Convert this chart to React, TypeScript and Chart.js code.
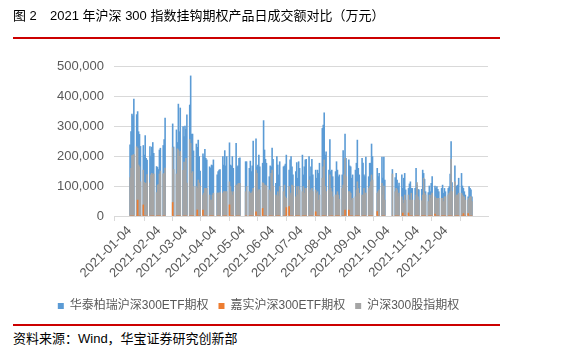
import React, { useEffect, useRef } from "react";
import { Chart, registerables } from "chart.js";

Chart.register(...registerables);

const tradingDates = [
  "2021-01-04","2021-01-05","2021-01-06","2021-01-07","2021-01-08","2021-01-11","2021-01-12","2021-01-13","2021-01-14","2021-01-15","2021-01-18","2021-01-19","2021-01-20","2021-01-21","2021-01-22","2021-01-25","2021-01-26","2021-01-27","2021-01-28","2021-01-29",
  "2021-02-01","2021-02-02","2021-02-03","2021-02-04","2021-02-05","2021-02-08","2021-02-09","2021-02-10","2021-02-18","2021-02-19","2021-02-22","2021-02-23","2021-02-24","2021-02-25","2021-02-26",
  "2021-03-01","2021-03-02","2021-03-03","2021-03-04","2021-03-05","2021-03-08","2021-03-09","2021-03-10","2021-03-11","2021-03-12","2021-03-15","2021-03-16","2021-03-17","2021-03-18","2021-03-19","2021-03-22","2021-03-23","2021-03-24","2021-03-25","2021-03-26","2021-03-29","2021-03-30","2021-03-31",
  "2021-04-01","2021-04-02","2021-04-06","2021-04-07","2021-04-08","2021-04-09","2021-04-12","2021-04-13","2021-04-14","2021-04-15","2021-04-16","2021-04-19","2021-04-20","2021-04-21","2021-04-22","2021-04-23","2021-04-26","2021-04-27","2021-04-28","2021-04-29","2021-04-30",
  "2021-05-06","2021-05-07","2021-05-10","2021-05-11","2021-05-12","2021-05-13","2021-05-14","2021-05-17","2021-05-18","2021-05-19","2021-05-20","2021-05-21","2021-05-24","2021-05-25","2021-05-26","2021-05-27","2021-05-28","2021-05-31",
  "2021-06-01","2021-06-02","2021-06-03","2021-06-04","2021-06-07","2021-06-08","2021-06-09","2021-06-10","2021-06-11","2021-06-15","2021-06-16","2021-06-17","2021-06-18","2021-06-21","2021-06-22","2021-06-23","2021-06-24","2021-06-25","2021-06-28","2021-06-29","2021-06-30",
  "2021-07-01","2021-07-02","2021-07-05","2021-07-06","2021-07-07","2021-07-08","2021-07-09","2021-07-12","2021-07-13","2021-07-14","2021-07-15","2021-07-16","2021-07-19","2021-07-20","2021-07-21","2021-07-22","2021-07-23","2021-07-26","2021-07-27","2021-07-28","2021-07-29","2021-07-30",
  "2021-08-02","2021-08-03","2021-08-04","2021-08-05","2021-08-06","2021-08-09","2021-08-10","2021-08-11","2021-08-12","2021-08-13","2021-08-16","2021-08-17","2021-08-18","2021-08-19","2021-08-20","2021-08-23","2021-08-24","2021-08-25","2021-08-26","2021-08-27","2021-08-30","2021-08-31",
  "2021-09-01","2021-09-02","2021-09-03","2021-09-06","2021-09-07","2021-09-08","2021-09-09","2021-09-10","2021-09-13","2021-09-14","2021-09-15","2021-09-16","2021-09-17","2021-09-22","2021-09-23","2021-09-24","2021-09-27","2021-09-28","2021-09-29","2021-09-30",
  "2021-10-08","2021-10-11","2021-10-12","2021-10-13","2021-10-14","2021-10-15","2021-10-18","2021-10-19","2021-10-20","2021-10-21","2021-10-22","2021-10-25","2021-10-26","2021-10-27","2021-10-28","2021-10-29",
  "2021-11-01","2021-11-02","2021-11-03","2021-11-04","2021-11-05","2021-11-08","2021-11-09","2021-11-10","2021-11-11","2021-11-12","2021-11-15","2021-11-16","2021-11-17","2021-11-18","2021-11-19","2021-11-22","2021-11-23","2021-11-24","2021-11-25","2021-11-26","2021-11-29","2021-11-30",
  "2021-12-01","2021-12-02","2021-12-03","2021-12-06","2021-12-07","2021-12-08","2021-12-09","2021-12-10","2021-12-13","2021-12-14","2021-12-15","2021-12-16","2021-12-17","2021-12-20","2021-12-21","2021-12-22","2021-12-23","2021-12-24","2021-12-27","2021-12-28","2021-12-29","2021-12-30","2021-12-31",
];

// 华泰柏瑞沪深300ETF期权 (万元)
const huataiETF = [
  237000,281000,340000,334000,390000, 338000,348000,281000,272000,232000, 235000,203000,268000,192000,186000, 231000,200000,230000,245000,209000,
  165000,162000,155000,220000,226000, 235000,255000,326000, 307000,230000, 287000,245000,373000,281000,360000,
  298000,265000,300000,289000,337000, 370000,467000,273000,273000,217000, 240000,229000,253000,198000,150000, 207000,198000,222000,192000,187000, 164000,160000,170000,
  168000,187000, 137000,148000,153000,155000, 198000,170000,218000,167000,198000, 244000,170000,167000,198000,159000, 242000,164000,167000,192000,194000,
  181000,181000, 159000,183000,148000,167000,250000, 257000,164000,170000,203000,164000, 176000,318000,220000,189000,176000, 131000,
  167000,164000,226000,189000, 109000,198000,170000,137000,181000, 164000,167000,173000,203000, 153000,187000,198000,164000,137000, 148000,178000,126000,
  181000,159000, 203000,137000,164000,187000,189000, 198000,131000,164000,189000,137000, 153000,126000,153000,142000,176000, 292000,303000,344000,203000,214000,
  153000,255000,148000,153000,131000, 148000,181000,153000,131000,137000, 137000,218000,187000,273000,192000, 187000,167000,164000,126000,137000, 153000,176000,
  253000,159000,137000, 192000,176000,137000,131000,196000, 131000,176000,176000,240000,198000, 159000,131000,142000, 196000,126000,196000,120000,
  155000, 128000,142000,120000,100000,110000, 137000,92000,126000,142000,87000, 92000,107000,114000,92000,92000,
  92000,159000,103000,89000,87000, 89000,153000,142000,122000,81000, 78000,100000,81000,109000,131000, 100000,92000,98000,89000,81000, 92000,103000,
  76000,92000,81000, 92000,98000,140000,248000,111000, 167000,100000,100000,103000,126000, 142000,100000,92000,81000,70000, 64000,98000,92000,87000,64000,
];

// 嘉实沪深300ETF期权 (万元)
const jiashiETF = [
  0,0,0,0,0, 0,53000,0,0,0, 37000,0,0,0,0, 0,0,0,0,0,
  0,0,0,0,0, 0,0,0, 45000,0, 0,0,0,0,0,
  0,0,0,0,0, 0,0,0,0,0, 0,20000,0,0,0, 20000,0,0,0,0, 0,0,0,
  0,0, 0,0,0,0, 0,0,0,0,0, 37000,0,0,0,0, 0,0,0,0,0,
  0,0, 0,0,0,0,0, 14000,0,0,0,0, 25000,0,0,0,0, 0,
  0,0,0,0, 0,0,0,0,0, 0,0,0,28000, 31000,0,0,0,0, 0,0,0,
  0,0, 0,0,0,0,0, 0,0,0,0,0, 14000,0,0,0,0, 0,0,0,0,0,
  0,0,0,0,0, 0,0,0,0,0, 0,0,0,20000,0, 20000,0,0,0,0, 0,0,
  0,0,0, 0,0,0,0,0, 0,0,0,0,0, 15000,0,0, 0,0,0,0,
  0, 0,0,0,0,0, 0,10000,0,0,0, 10000,0,0,0,0,
  0,0,0,0,0, 0,0,0,0,0, 0,0,0,0,0, 6000,0,0,0,0, 0,0,
  0,0,0, 0,0,0,0,0, 0,0,0,0,0, 0,0,8000,0,0, 8000,0,0,0,0,
];

// 沪深300股指期权 (万元)
const csi300Index = [
  128000,159000,201000,203000,205000, 231000,226000,170000,164000,114000, 153000,112000,109000,110000,138000, 110000,137000,142000,137000,140000,
  78000,103000,105000,140000,150000, 140000,142000,160000, 228000,155000, 140000,224000,220000,199000,215000,
  152000,180000,153000,192000,110000, 255000,242000,142000,148000,98000, 98000,92000,120000,110000,100000, 70000,76000,92000,92000,92000, 70000,53000,53000,
  70000,76000, 76000,76000,76000,78000, 76000,81000,81000,81000,81000, 114000,98000,81000,70000,81000, 103000,100000,107000,109000,109000,
  81000,98000, 81000,76000,76000,81000,92000, 153000,142000,81000,87000,87000, 111000,109000,103000,103000,100000, 87000,
  81000,142000,153000,100000, 70000,64000,81000,67000,98000, 81000,103000,64000,59000, 98000,70000,76000,103000,100000, 64000,98000,70000,
  98000,87000, 81000,98000,76000,92000,92000, 120000,78000,87000,92000,81000, 87000,76000,81000,53000,70000, 126000,164000,187000,98000,81000,
  87000,137000,92000,81000,64000, 70000,70000,81000,70000,56000, 92000,103000,137000,192000,131000, 81000,81000,76000,53000,59000, 64000,87000,
  114000,92000,76000, 70000,70000,92000,76000,76000, 92000,98000,114000,137000,120000, 76000,81000,87000, 109000,70000,100000,53000,
  140000, 81000,92000,87000,64000,76000, 64000,53000,42000,70000,53000, 70000,53000,53000,76000,53000,
  53000,70000,111000,64000,53000, 51000,70000,126000,76000,70000, 48000,70000,59000,70000,76000, 64000,53000,59000,53000,59000, 59000,59000,
  48000,64000,64000, 70000,76000,81000,190000,81000, 114000,64000,70000,70000,76000, 76000,70000,64000,64000,53000, 53000,59000,64000,64000,48000,
];

const seriesNames = ["华泰柏瑞沪深300ETF期权", "嘉实沪深300ETF期权", "沪深300股指期权"];
const seriesColors = ["#5B9BD5", "#ED7D31", "#A5A5A5"];
const tickDates = [
  "2021-01-04","2021-02-04","2021-03-04","2021-04-04","2021-05-04","2021-06-04",
  "2021-07-04","2021-08-04","2021-09-04","2021-10-04","2021-11-04","2021-12-04",
];
const axisStart = "2021-01-04";
const axisEnd = "2021-12-31";

const DAY_MS = 86400000;
const dayIndex = (s: string) => Math.round((Date.parse(s) - Date.parse(axisStart)) / DAY_MS);

const FONT = '"Liberation Sans", "Noto Sans CJK SC", sans-serif';

export default function App() {
  const ref = useRef<HTMLCanvasElement>(null);

  useEffect(() => {
    const toPoints = (vals: number[]) => tradingDates.map((d, i) => ({ x: dayIndex(d), y: vals[i] }));
    const values = [huataiETF, jiashiETF, csi300Index];
    const drawOrder = [3, 1, 2];
    const chart = new Chart(ref.current as HTMLCanvasElement, {
      type: "bar",
      data: {
        datasets: values.map((vals, i) => ({
          label: seriesNames[i],
          data: toPoints(vals),
          backgroundColor: seriesColors[i],
          borderWidth: 0,
          grouped: false,
          barPercentage: 1,
          categoryPercentage: 1,
          order: drawOrder[i],
        })) as any,
      },
      options: {
        animation: false,
        responsive: false,
        devicePixelRatio: 1,
        layout: { padding: { left: 29, right: 83, top: 66, bottom: 0 } },
        plugins: {
          tooltip: { enabled: false },
          legend: {
            position: "bottom",
            labels: {
              boxWidth: 6,
              boxHeight: 6,
              padding: 10,
              color: "#595959",
              font: { family: FONT, size: 12 },
              sort: (a: any, b: any) => a.datasetIndex - b.datasetIndex,
            },
          },
        },
        scales: {
          x: {
            type: "linear",
            min: dayIndex(axisStart) - 0.5,
            max: dayIndex(axisEnd) + 0.5,
            afterBuildTicks: (scale: any) => {
              scale.ticks = tickDates.map((d) => ({ value: dayIndex(d) - 0.5 }));
            },
            afterFit: (scale: any) => {
              scale.height = 74;
            },
            ticks: {
              autoSkip: false,
              maxRotation: 45,
              minRotation: 45,
              padding: 2,
              color: "#595959",
              font: { family: FONT, size: 13 },
              callback: (_v: any, i: number) => tickDates[i],
            },
            grid: {
              drawOnChartArea: false,
              drawTicks: true,
              tickLength: 5,
              color: "#D9D9D9",
            },
            border: { display: true, color: "#D9D9D9" },
          },
          y: {
            min: 0,
            max: 500000,
            afterFit: (scale: any) => {
              scale.width = 85;
            },
            ticks: {
              stepSize: 50000,
              padding: 10,
              color: "#595959",
              font: { family: FONT, size: 13 },
              callback: (v: any) => Number(v).toLocaleString("en-US"),
            },
            grid: { color: "#D9D9D9", drawTicks: false },
            border: { display: false },
          },
        },
      } as any,
    });
    return () => chart.destroy();
  }, []);

  const textStyle: React.CSSProperties = {
    position: "absolute",
    fontFamily: FONT,
    fontSize: 13,
    lineHeight: "16px",
    color: "#000",
    whiteSpace: "nowrap",
  };

  return (
    <div style={{ position: "fixed", left: 0, top: 0, width: 571, height: 351, background: "#fff", overflow: "hidden" }}>
      <canvas ref={ref} width={571} height={322} style={{ position: "absolute", left: 0, top: 0, width: 571, height: 322 }} />
      <div style={{ ...textStyle, left: 13, top: 8 }}>图 2</div>
      <div style={{ ...textStyle, left: 50, top: 8 }}>2021 年沪深 300 指数挂钩期权产品日成交额对比（万元）</div>
      <div style={{ position: "absolute", left: 13, top: 37, width: 487, height: 2, background: "#CC0000" }} />
      <div style={{ position: "absolute", left: 13, top: 324, width: 487, height: 2, background: "#CC0000" }} />
      <div style={{ ...textStyle, left: 13, top: 331 }}>资料来源：Wind，华宝证券研究创新部</div>
    </div>
  );
}
